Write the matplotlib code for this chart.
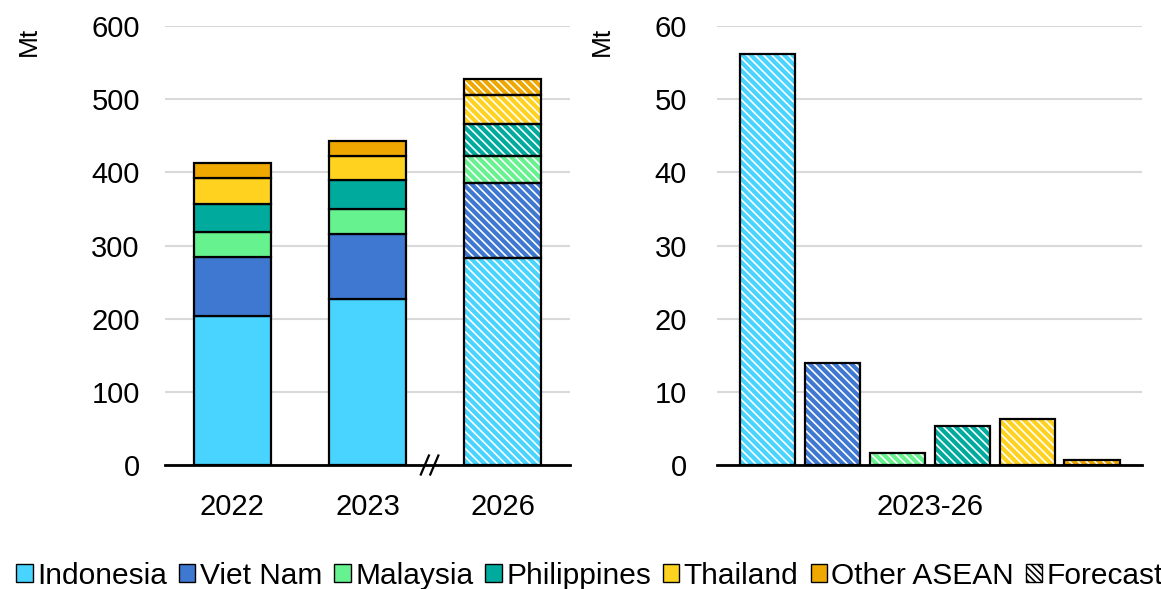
import numpy as np
import matplotlib.pyplot as plt
from matplotlib.patches import Patch

plt.rcParams['font.family'] = ['Liberation Sans', 'DejaVu Sans']
plt.rcParams['hatch.linewidth'] = 1.2

# data (Mt)
years = ['2022', '2023', '2026']
countries = ['Indonesia', 'Viet Nam', 'Malaysia', 'Philippines', 'Thailand', 'Other ASEAN']
colors = ['#48D4FF', '#3F78D1', '#66F28E', '#00AB9E', '#FFD21F', '#EFA800']
indonesia = [204, 227, 283.2]
viet_nam = [80, 88.6, 102.6]
malaysia = [34, 34.4, 36.1]
philippines = [38.6, 39, 44.4]
thailand = [35.4, 33, 39.3]
other_asean = [20.6, 21, 21.7]
forecast = [False, False, True]

growth_label = '2023-26'
growth = [56.2, 14.0, 1.7, 5.4, 6.3, 0.7]

series = [indonesia, viet_nam, malaysia, philippines, thailand, other_asean]
HATCH = '\\' * 4

fig = plt.figure(figsize=(11.61, 5.89), dpi=100)
ax1 = fig.add_axes([0.142, 0.2105, 0.349, 0.7453])
ax2 = fig.add_axes([0.618, 0.2105, 0.366, 0.7453])

fs = 21


def draw_bar(ax, x, h, bottom, color, width, hatched):
    if hatched:
        ax.bar(x, h, width, bottom=bottom, color=color, edgecolor='white',
               hatch=HATCH, linewidth=0, zorder=3)
        ax.bar(x, h, width, bottom=bottom, fill=False, edgecolor='black',
               linewidth=1.6, zorder=4)
    else:
        ax.bar(x, h, width, bottom=bottom, color=color, edgecolor='black',
               linewidth=1.6, zorder=3)


# left: stacked totals
xpos = np.arange(len(years))
bottoms = np.zeros(len(years))
for vals, c in zip(series, colors):
    for i in range(len(years)):
        draw_bar(ax1, xpos[i], vals[i], bottoms[i], c, 0.57, forecast[i])
    bottoms += np.array(vals)

ax1.set_ylim(0, 600)
ax1.set_xlim(-0.5, 2.5)
ax1.set_yticks(range(0, 601, 100))
ax1.set_xticks(xpos)
ax1.set_xticklabels(years)

# axis break marks between 2023 and 2026
for dx in (-0.035, 0.035):
    ax1.plot([1.46 + dx - 0.03, 1.46 + dx + 0.03], [-13, 13], color='black',
             lw=1.6, clip_on=False, zorder=6)

# right: change 2023-26
xr = np.arange(len(growth))
for i, (v, c) in enumerate(zip(growth, colors)):
    draw_bar(ax2, xr[i], v, 0, c, 0.85, True)
ax2.set_ylim(0, 60)
ax2.set_xlim(-0.777, 5.777)
ax2.set_yticks(range(0, 61, 10))
ax2.set_xticks([2.5])
ax2.set_xticklabels([growth_label])

for ax in (ax1, ax2):
    for s in ('top', 'right', 'left'):
        ax.spines[s].set_visible(False)
    ax.spines['bottom'].set_linewidth(2)
    ax.spines['bottom'].set_zorder(5)
    ax.grid(axis='y', color='#d9d9d9', lw=1.5, zorder=0)
    ax.set_axisbelow(True)
    ax.tick_params(axis='both', length=0, labelsize=fs)
    ax.tick_params(axis='x', pad=20)
ax1.tick_params(axis='y', pad=18)
ax2.tick_params(axis='y', pad=22)

fig.text(0.025, 0.955, 'Mt', rotation=90, fontsize=fs - 2, ha='center', va='top')
fig.text(0.518, 0.955, 'Mt', rotation=90, fontsize=fs - 2, ha='center', va='top')

handles = [Patch(facecolor=c, edgecolor='black', linewidth=1) for c in colors]
handles.append(Patch(facecolor='white', edgecolor='black', hatch='\\' * 5, linewidth=1))
fig.legend(handles, countries + ['Forecast'], loc='center', bbox_to_anchor=(0.508, 0.022),
           ncol=7, frameon=False, fontsize=fs + 0.5, handlelength=0.55, handleheight=0.55,
           handletextpad=0.15, columnspacing=0.4, borderaxespad=0)

fig.savefig('out.png', dpi=100)
